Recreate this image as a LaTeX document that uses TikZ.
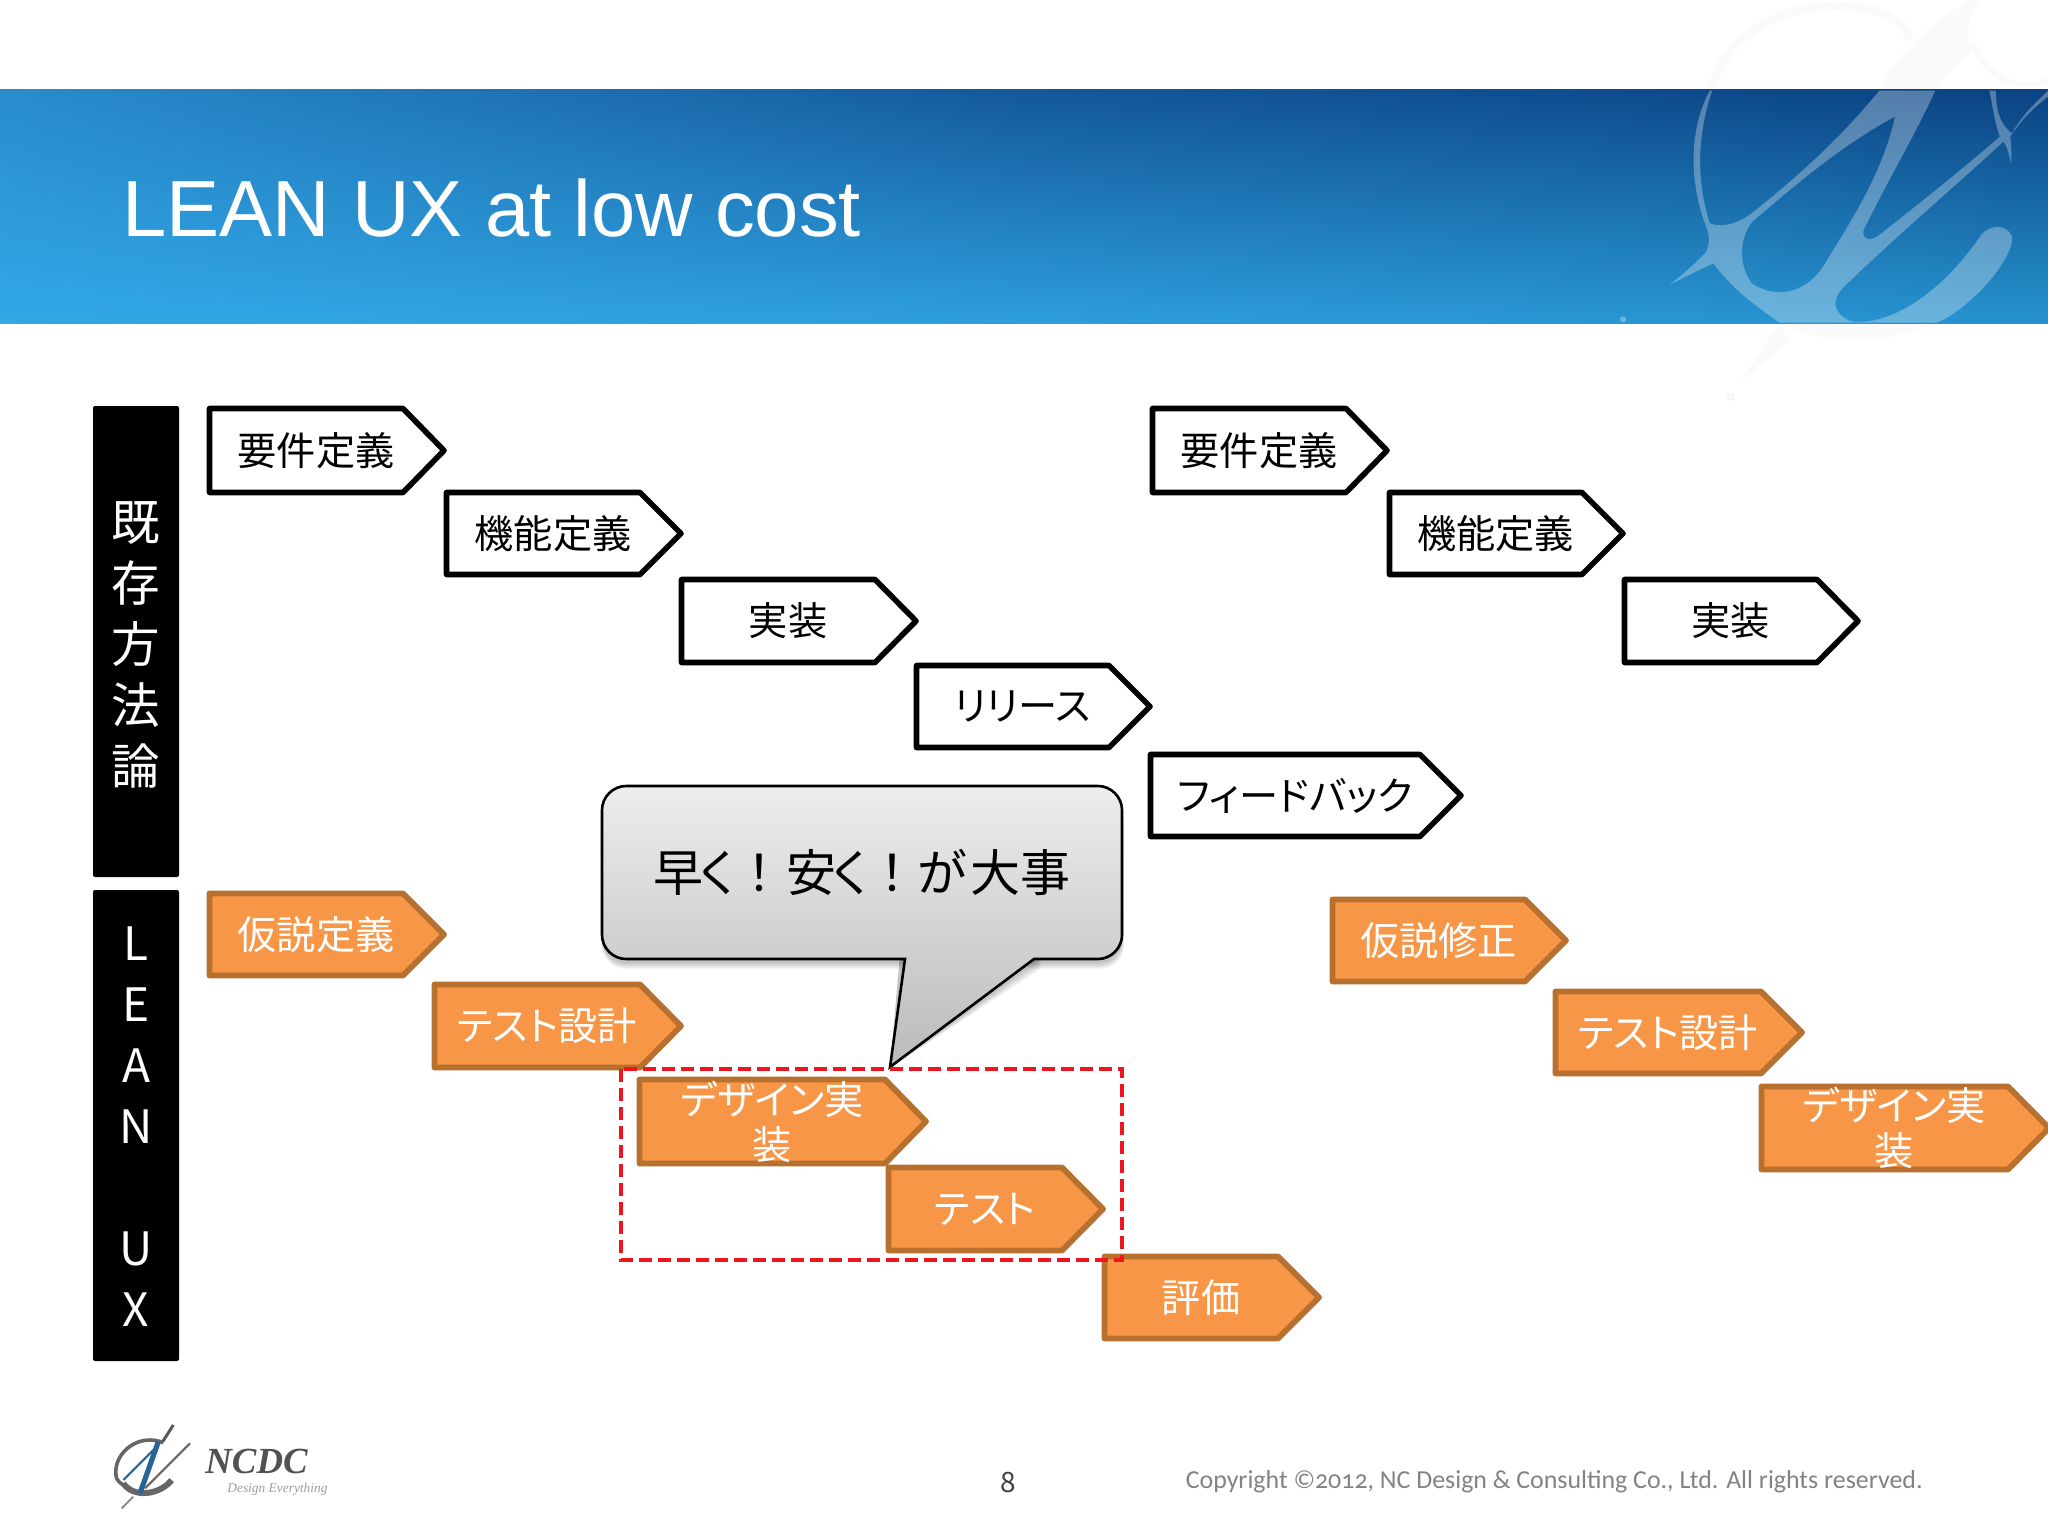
\documentclass[tikz,border=0pt]{standalone}
\usepackage{fontspec}
\setmainfont[RawFeature={+palt}]{Noto Sans CJK JP}
\newfontfamily\fullcjk{Noto Sans CJK JP}
\newfontfamily\titlefont{Liberation Sans}
\newfontfamily\copyfont[Numbers=OldStyle]{Carlito}
\newfontfamily\logofont{Liberation Serif}
\usetikzlibrary{calc,shadings}
\definecolor{orfill}{HTML}{F79646}
\definecolor{orline}{HTML}{B8702F}
\definecolor{cred}{HTML}{F0141E}
\definecolor{bandTL}{RGB}{41,140,205}
\definecolor{bandTM}{RGB}{19,88,155}
\definecolor{bandTR}{RGB}{10,66,130}
\definecolor{bandBL}{RGB}{50,168,230}
\definecolor{bandBM}{RGB}{46,158,220}
\definecolor{bandBR}{RGB}{38,146,205}
\definecolor{logoblue}{RGB}{40,100,150}
\definecolor{copygray}{RGB}{130,130,135}
\tikzset{
 blackbox/.style={draw=black,line width=2.8pt,fill=white,line join=round},
 orangebox/.style={draw=orline,line width=2.9pt,fill=orfill,line join=round},
 blacktxt/.style={text=black,font=\fontsize{19.6}{22.5}\selectfont,align=center,inner sep=0pt},
 orangetxt/.style={text=white,font=\fontsize{19.6}{22.5}\selectfont,align=center,inner sep=0pt},
 sidebar/.style={fill=black,rounded corners=1pt},
 sidetxt/.style={text=white,font=\fontsize{24.3}{30.4}\selectfont,align=center,inner sep=0pt},
 sidelatin/.style={text=white,font=\fontsize{23}{30.5}\selectfont,align=center,inner sep=0pt},
 wm/.style={fill=white,opacity=.3,draw=none},
}
% name, box style, text style, x1, x2, y1, y2, text
\newcommand{\penta}[8]{%
 \pgfmathsetmacro{\pa}{#4+2.5}\pgfmathsetmacro{\pb}{#5-3}%
 \pgfmathsetmacro{\ps}{#5-44}\pgfmathsetmacro{\pt}{#6+2.5}%
 \pgfmathsetmacro{\pu}{#7-2.5}\pgfmathsetmacro{\pmid}{(#6+#7)/2}%
 \pgfmathsetmacro{\pc}{(#4+#5-22)/2}%
 \draw[#2] (\pa,\pt) -- (\ps,\pt) -- (\pb,\pmid) -- (\ps,\pu) -- (\pa,\pu) -- cycle;
 \node[#3] (#1) at (\pc,\pmid) {#8};}
\newcommand{\cw}[2]{\makebox[#1pt][c]{#2}}
% watermark outline pieces, in the coordinates of the band's right end
\newcommand{\wmband}{%
 (590,680) .. controls (545,560) and (535,400) .. (600,272) -- (607,272)
 .. controls (565,400) and (560,540) .. (600,670) .. controls (640,685) and (680,670) .. (720,640)
 .. controls (840,540) and (970,420) .. (1085,272) -- (1245,272)
 .. controls (1190,400) and (1110,540) .. (1040,690) .. controls (1035,720) and (1060,725) .. (1085,705)
 .. controls (1200,610) and (1320,510) .. (1430,410) .. controls (1415,370) and (1410,320) .. (1400,272)
 -- (1418,272) .. controls (1420,320) and (1425,370) .. (1465,400) .. controls (1490,350) and (1530,310) .. (1568,272)
 -- (1568,290) .. controls (1530,320) and (1490,360) .. (1460,410) .. controls (1462,440) and (1465,470) .. (1462,490)
 .. controls (1455,460) and (1450,435) .. (1440,425) .. controls (1290,570) and (1110,730) .. (975,870)
 .. controls (945,910) and (960,950) .. (1010,965) .. controls (1120,975) and (1260,880) .. (1370,715)
 .. controls (1395,670) and (1450,670) .. (1465,710) .. controls (1470,780) and (1340,930) .. (1250,968)
 -- (800,968) .. controls (720,910) and (660,860) .. (610,790) .. controls (570,810) and (530,830) .. (485,855)
 .. controls (520,825) and (560,790) .. (590,755) .. controls (600,730) and (600,710) .. (590,680) -- cycle
 (1130,350) .. controls (985,430) and (850,550) .. (722,665) .. controls (680,720) and (685,800) .. (720,850)
 .. controls (790,900) and (880,880) .. (930,790) .. controls (1000,670) and (1095,520) .. (1130,350) -- cycle
}
\begin{document}
\begin{tikzpicture}[x=.5pt,y=-.5pt]
\useasboundingbox (0,0) rectangle (2048,1536);
\fill[white] (0,0) rectangle (2048,1536);
% faint watermark outside the band
\begin{scope}[shift={(1500,0)},xscale=1/2.861,yscale=1/3]
 \draw[draw=black!2,line width=4pt,line cap=round] (603,272) .. controls (640,120) and (780,20) .. (960,18) .. controls (1060,15) and (1150,50) .. (1170,110);
 \fill[black!2] (1080,272) .. controls (1130,170) and (1240,60) .. (1350,0) -- (1370,0) .. controls (1340,50) and (1330,110) .. (1350,150) .. controls (1320,180) and (1280,210) .. (1250,272) -- cycle;
 \draw[draw=black!2,line width=3pt] (1350,130) .. controls (1390,230) and (1480,280) .. (1568,240);
 \fill[black!2] (800,968) .. controls (900,1030) and (1100,1040) .. (1250,968) -- cycle;
 \fill[black!2] (800,968) -- (690,1145) -- (830,1020) -- cycle;
 \draw[black!4,line width=1pt] (660,1190) circle[radius=9];
\end{scope}
% band
\shade[upper left=bandTL,upper right=bandTM,lower left=bandBL,lower right=bandBM] (0,90) rectangle (1025,323);
\shade[upper left=bandTM,upper right=bandTR,lower left=bandBM,lower right=bandBR] (1024,90) rectangle (2048,323);
\begin{scope}
 \clip (0,90) rectangle (2048,323);
 \begin{scope}[shift={(1500,0)},xscale=1/2.861,yscale=1/3]
  \fill[wm,even odd rule] \wmband;
  \fill[wm] (352,958) circle[radius=9];
 \end{scope}
\end{scope}
\node[anchor=base west,text=white,inner sep=0pt,font=\titlefont\fontsize{39.8}{46}\selectfont] (title) at (122,236) {LEAN UX at low cost};
% side bars
\fill[sidebar] (93,406) rectangle (179,877);
\fill[sidebar] (93,890) rectangle (179,1361);
\node[sidetxt] (side1) at (136,645) {既\\存\\方\\法\\論};
\node[sidelatin] (side2) at (136,1127) {L\\E\\A\\N\\\mbox{}\\U\\X};
% black arrows
\penta{a1}{blackbox}{blacktxt}{207}{447}{406}{495}{要件定義}
\penta{a2}{blackbox}{blacktxt}{444}{684}{490}{577}{機能定義}
\penta{a3}{blackbox}{blacktxt}{679}{919}{577}{665}{実装}
\penta{a4}{blackbox}{blacktxt}{914}{1153}{663}{750}{リリース}
\penta{b1}{blackbox}{blacktxt}{1150}{1390}{406}{495}{要件定義}
\penta{b2}{blackbox}{blacktxt}{1387}{1626}{490}{577}{機能定義}
\penta{b3}{blackbox}{blacktxt}{1622}{1861}{577}{665}{実装}
\penta{b4}{blackbox}{blacktxt}{1148}{1464}{752}{839}{フィードバック}
% orange arrows
\penta{c1}{orangebox}{orangetxt}{207}{447}{891}{978}{仮説定義}
\penta{c2}{orangebox}{orangetxt}{432}{684}{982}{1070}{テスト設計}
\penta{c3}{orangebox}{orangetxt}{637}{929}{1077}{1166}{デザイン実\\装}
\penta{c4}{orangebox}{orangetxt}{886}{1106}{1165}{1253}{テスト}
\penta{c5}{orangebox}{orangetxt}{1102}{1322}{1254}{1341}{評価}
\penta{d1}{orangebox}{orangetxt}{1330}{1569}{897}{984}{仮説修正}
\penta{d2}{orangebox}{orangetxt}{1553}{1805}{989}{1076}{テスト設計}
\penta{d3}{orangebox}{orangetxt}{1759}{2052}{1084}{1172}{デザイン実\\装}
% callout
\foreach \k in {1,...,7}{
 \fill[black,opacity=.035,rounded corners=12pt] (602,795+\k) -- (602,962+\k) -- (1122+\k*.3,962+\k) -- (1122+\k*.3,795+\k) -- cycle;
 \fill[black,opacity=.035] (900,955) -- (890,1068) -- (1034+\k,962+\k) -- (1040,955) -- cycle;
}
\draw[draw=black,line width=1.3pt,line join=miter,top color=black!7,bottom color=black!27]
 (602,810) .. controls (602,797) and (613,786) .. (626,786) -- (1098,786) .. controls (1111,786) and (1122,797) .. (1122,810) -- (1122,935) .. controls (1122,948) and (1111,959) .. (1098,959) -- (1034,959) -- (890,1067) -- (905,959) -- (626,959) .. controls (613,959) and (602,948) .. (602,935) -- cycle;
\node[inner sep=0pt,text=black,font=\fullcjk\fontsize{25}{28}\selectfont] (call) at (859,872) {\cw{25}{早}\cw{15}{く}\cw{26}{！}\cw{26}{安}\cw{14}{く}\cw{27}{！}\cw{23}{が}\cw{30}{大}\cw{20}{事}};
% red dashed selection
\draw[draw=cred,line width=2.2pt,dash pattern=on 6.5pt off 3pt] (621,1069) rectangle (1122,1260);
% footer
\node[inner sep=0pt,text=black!75,font=\fontsize{14}{16}\selectfont] (pg) at (1008,1482) {8};
\node[anchor=base east,inner sep=0pt,text=copygray,font=\copyfont\fontsize{12.95}{16}\selectfont] (copy) at (1923,1488) {Copyright ©2012, NC Design \& Consulting Co., Ltd. All rights reserved.};
% logo
\begin{scope}[shift={(90,1400)},scale=1/3]
 \draw[draw=black!60,line width=1.8pt] (220,128) .. controls (150,100) and (85,150) .. (78,205) .. controls (75,240) and (85,245) .. (100,255);
 \draw[draw=black!60,line width=3pt] (100,250) .. controls (130,295) and (210,285) .. (245,240);
 \draw[draw=logoblue,line width=2.6pt] (205,125) -- (150,280);
 \draw[draw=logoblue,line width=1pt] (100,240) -- (205,135);
 \draw[draw=black!60,line width=1pt] (165,265) -- (300,130);
 \draw[draw=black!65,line width=1.5pt] (218,125) -- (250,75);
 \draw[draw=black!45,line width=1pt] (130,290) -- (95,325);
\end{scope}
\node[anchor=base west,inner sep=0pt,text=black!68,font=\logofont\itshape\bfseries\fontsize{18.4}{20}\selectfont] (ncdc) at (205,1473) {NCDC};
\node[anchor=base west,inner sep=0pt,text=black!38,font=\logofont\itshape\fontsize{6.7}{8}\selectfont] (tag) at (227,1492) {Design Everything};
\end{tikzpicture}
\end{document}
